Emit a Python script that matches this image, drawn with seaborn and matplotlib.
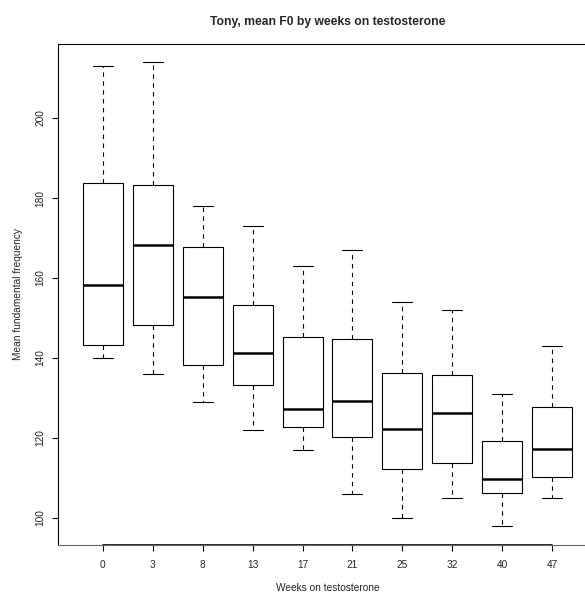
import pandas as pd
import seaborn as sns
import matplotlib.pyplot as plt

# five-number summaries (min, Q1, median, Q3, max)
weeks = ["0", "3", "8", "13", "17", "21", "25", "32", "40", "47"]
f0_min = [140, 136, 129, 122, 117, 106, 100, 105, 98, 105]
f0_q1 = [143.3, 148.3, 138.3, 133.3, 122.8, 120.3, 112.3, 113.8, 106.3, 110.3]
f0_med = [158.3, 168.3, 155.3, 141.3, 127.3, 129.3, 122.3, 126.3, 109.8, 117.3]
f0_q3 = [183.8, 183.3, 167.8, 153.3, 145.3, 144.8, 136.3, 135.8, 119.3, 127.8]
f0_max = [213, 214, 178, 173, 163, 167, 154, 152, 131, 143]

rows = []
for i, w in enumerate(weeks):
    for v in (f0_min[i], f0_q1[i], f0_med[i], f0_q3[i], f0_max[i]):
        rows.append({"week": w, "f0": v})
df = pd.DataFrame(rows)

sns.set_style("ticks")
plt.rcParams["font.family"] = ["Liberation Sans", "DejaVu Sans"]

fig = plt.figure(figsize=(5.85, 5.92), dpi=100)
# plot region runs past the right edge of the picture, as in the reference
ax = fig.add_axes([58 / 585, 47 / 592, 539 / 585, 501 / 592])

sns.boxplot(data=df, x="week", y="f0", order=weeks, ax=ax,
            whis=(0, 100), width=0.8, color="white", saturation=1,
            linecolor="black", linewidth=0.8, fliersize=0,
            medianprops=dict(color="black", linewidth=1.8),
            whiskerprops=dict(color="black", linestyle=(0, (4, 4))),
            capprops=dict(color="black"),
            boxprops=dict(edgecolor="black", facecolor="white"))

ax.set_xlim(-0.9, 9.9)
ax.set_ylim(93.25, 218.5)
ax.set_yticks(range(100, 201, 20))

for s in ax.spines.values():
    s.set_color("black")
    s.set_linewidth(0.8)
ax.spines["bottom"].set_color("#666666")
ax.plot([0, len(weeks) - 1], [93.25, 93.25], color="black", lw=1.2, clip_on=False)

ax.tick_params(axis="both", length=4.6, width=0.8, color="black", labelsize=7.3)
ax.tick_params(axis="x", pad=6.5)
ax.tick_params(axis="y", pad=4.5)
plt.setp(ax.get_yticklabels(), rotation=90, va="center")

ax.set_xlabel("Weeks on testosterone", fontsize=7.3)
ax.set_ylabel("Mean fundamental frequency", fontsize=7.3)
ax.xaxis.set_label_coords(0.5, -0.076)
ax.yaxis.set_label_coords(-0.065, 0.5)
ax.set_title("Tony, mean F0 by weeks on testosterone", fontsize=8.7,
             fontweight="bold", pad=14)

fig.savefig("out.png", dpi=100)
